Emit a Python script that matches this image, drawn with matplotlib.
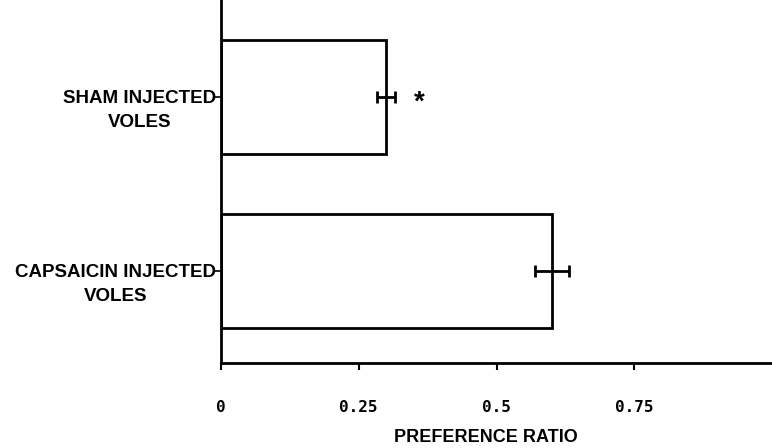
import matplotlib
matplotlib.use("Agg")
import matplotlib.pyplot as plt

categories = ["CAPSAICIN INJECTED\nVOLES", "SHAM INJECTED\nVOLES"]
values = [0.60, 0.30]
errors = [0.031, 0.016]
xticks = [0, 0.25, 0.5, 0.75]
xtick_labels = ["0", "0.25", "0.5", "0.75"]
star_x = 0.36

fig = plt.figure(figsize=(7.72, 4.48), dpi=100)
ax = fig.add_axes([221/772, 1-363/448, 1-221/772, 363/448])

pos = list(range(len(categories)))
ax.barh(pos, values, height=0.66, color="white", edgecolor="black", linewidth=2, zorder=2)
ax.errorbar(values, pos, xerr=errors, fmt="none", ecolor="black", elinewidth=2,
            capsize=4.5, capthick=2, zorder=3)
ax.annotate("*", xy=(star_x, pos[1]), xytext=(0, -4), textcoords="offset points",
            ha="center", va="center", fontsize=20, fontweight="bold",
            family="Liberation Sans")

ax.set_xlim(0, 1.0)
ax.set_ylim(-0.529, 1.557)
ax.set_yticks(pos)
ax.set_yticklabels([""] * len(pos))
for p, cat in zip(pos, categories):
    ax.annotate(cat, xy=(0, p), xycoords=("axes fraction", "data"),
                xytext=(-3.5, -10), textcoords="offset points",
                ha="right", va="center", multialignment="center",
                fontsize=13.5, fontweight="bold", family="Liberation Sans",
                linespacing=1.55, annotation_clip=False)
ax.set_xticks(xticks)
ax.set_xticklabels(xtick_labels, fontsize=11.5, fontweight="bold", family="DejaVu Sans Mono")

for s in ["top", "right"]:
    ax.spines[s].set_visible(False)
for s in ["left", "bottom"]:
    ax.spines[s].set_linewidth(2)
ax.tick_params(axis="x", length=5, width=1.5, pad=22)
ax.tick_params(axis="y", length=4, width=1.2, pad=0)

fig.text(486/772, 1-437/448, "PREFERENCE RATIO", ha="center", va="center",
         fontsize=13, fontweight="bold", family="Liberation Sans")

fig.savefig("out.png", dpi=100)
